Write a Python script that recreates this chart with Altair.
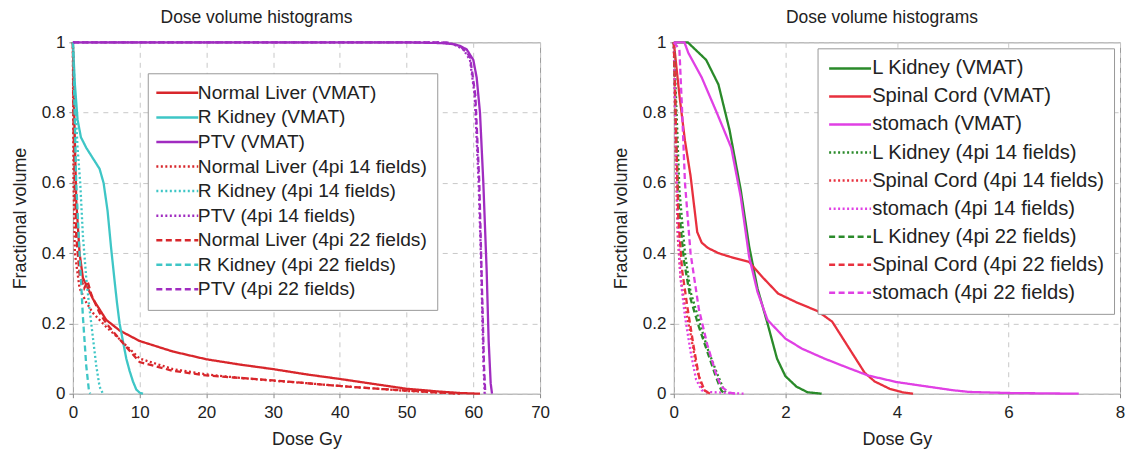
import altair as alt
import pandas as pd

# ---------------- Left panel data (Dose Gy, fractional volume) ----------------
nl_vmat_x = [0, 0.2, 0.5, 1, 1.5, 2, 3, 4, 5, 7, 10, 15, 20, 25, 30, 35, 40, 45, 50, 55, 58, 61]
nl_vmat_y = [1, 0.8, 0.55, 0.4, 0.33, 0.31, 0.27, 0.24, 0.21, 0.18, 0.15, 0.12, 0.098, 0.083, 0.07, 0.055, 0.042, 0.028, 0.014, 0.006, 0.002, 0]
rk_vmat_x = [0, 0.3, 0.7, 1.2, 2, 3, 4, 4.6, 5.2, 5.7, 6.2, 6.6, 7, 7.5, 8, 8.5, 9, 9.5, 10, 10.5]
rk_vmat_y = [1, 0.88, 0.78, 0.73, 0.7, 0.67, 0.64, 0.6, 0.52, 0.42, 0.33, 0.26, 0.2, 0.15, 0.1, 0.065, 0.035, 0.012, 0.003, 0]
ptv_vmat_x = [0, 50, 55, 57, 58, 59, 60, 60.5, 61, 61.5, 62, 62.3, 62.6, 62.8]
ptv_vmat_y = [1, 1, 0.998, 0.995, 0.99, 0.98, 0.95, 0.9, 0.8, 0.6, 0.35, 0.15, 0.03, 0]
nl_14_x = [0, 0.1, 0.3, 1, 2, 3, 5, 7, 10, 15, 20, 25, 30, 35, 40, 45, 50, 55, 58]
nl_14_y = [1, 0.6, 0.4, 0.3, 0.26, 0.23, 0.19, 0.155, 0.1, 0.07, 0.055, 0.045, 0.037, 0.03, 0.022, 0.015, 0.008, 0.003, 0]
rk_14_x = [0, 0.3, 0.7, 1.1, 1.5, 2, 2.5, 3, 3.5, 4, 4.5]
rk_14_y = [1, 0.85, 0.7, 0.6, 0.45, 0.33, 0.24, 0.16, 0.08, 0.02, 0]
ptv_14_x = [0, 55, 57, 58.5, 59.5, 60.2, 60.8, 61.2, 61.5, 61.7]
ptv_14_y = [1, 1, 0.995, 0.98, 0.95, 0.85, 0.6, 0.35, 0.1, 0]
nl_22_x = [0, 0.1, 0.5, 1, 1.7, 2.2, 2.8, 4, 5, 7, 10, 15, 20, 25, 30, 35, 40, 45, 50, 55, 58]
nl_22_y = [1, 0.75, 0.45, 0.34, 0.3, 0.32, 0.28, 0.23, 0.2, 0.155, 0.09, 0.065, 0.052, 0.045, 0.038, 0.03, 0.022, 0.015, 0.009, 0.003, 0]
rk_22_x = [0, 0.2, 0.5, 1, 1.5, 2, 2.4, 2.6]
rk_22_y = [1, 0.85, 0.6, 0.4, 0.22, 0.08, 0.01, 0]
ptv_22_x = [0, 56, 58, 59.5, 60.3, 60.9, 61.3, 61.6, 61.8]
ptv_22_y = [1, 1, 0.99, 0.96, 0.85, 0.6, 0.3, 0.08, 0]

# ---------------- Right panel data ----------------
lk_vmat_x = [0, 0.25, 0.58, 0.8, 1.0, 1.2, 1.35, 1.5, 1.68, 1.85, 2.0, 2.2, 2.4, 2.65]
lk_vmat_y = [1, 1, 0.95, 0.88, 0.75, 0.58, 0.42, 0.3, 0.2, 0.1, 0.05, 0.02, 0.004, 0]
sc_vmat_x = [0, 0.1, 0.2, 0.3, 0.42, 0.5, 0.61, 0.8, 1.0, 1.35, 1.6, 1.87, 2.2, 2.58, 2.84, 3.1, 3.42, 3.6, 3.87, 4.1, 4.29]
sc_vmat_y = [1, 0.85, 0.72, 0.62, 0.46, 0.43, 0.415, 0.4, 0.39, 0.375, 0.33, 0.285, 0.26, 0.235, 0.205, 0.14, 0.06, 0.035, 0.014, 0.004, 0]
st_vmat_x = [0, 0.19, 0.26, 0.5, 0.77, 1.03, 1.2, 1.35, 1.5, 1.68, 2.0, 2.3, 2.7, 3.1, 3.48, 4.0, 4.39, 5.0, 5.3, 6.0, 7.26]
st_vmat_y = [1, 1, 0.97, 0.9, 0.8, 0.7, 0.56, 0.39, 0.29, 0.21, 0.157, 0.128, 0.1, 0.075, 0.052, 0.033, 0.024, 0.01, 0.005, 0.002, 0]
lk_14_x = [0, 0.05, 0.1, 0.2, 0.3, 0.45, 0.6, 0.77, 0.9, 0.95]
lk_14_y = [1, 0.8, 0.58, 0.4, 0.29, 0.21, 0.13, 0.06, 0.01, 0]
sc_14_x = [0, 0.03, 0.07, 0.12, 0.2, 0.3, 0.4, 0.5, 0.6]
sc_14_y = [1, 0.7, 0.45, 0.33, 0.25, 0.17, 0.08, 0.02, 0]
st_14_x = [0, 0.03, 0.07, 0.12, 0.2, 0.3, 0.4, 0.5, 0.6, 0.9, 1.25]
st_14_y = [1, 0.75, 0.5, 0.33, 0.22, 0.12, 0.04, 0.01, 0.005, 0.003, 0]
lk_22_x = [0, 0.04, 0.08, 0.18, 0.3, 0.45, 0.6, 0.75, 0.85, 0.9]
lk_22_y = [1, 0.75, 0.55, 0.38, 0.27, 0.19, 0.12, 0.05, 0.01, 0]
sc_22_x = [0, 0.04, 0.08, 0.15, 0.25, 0.35, 0.45, 0.55, 0.65]
sc_22_y = [1, 0.75, 0.5, 0.35, 0.24, 0.14, 0.05, 0.01, 0]
st_22_x = [0, 0.1, 0.15, 0.2, 0.3, 0.45, 0.6, 0.75, 0.85, 1.0, 1.1]
st_22_y = [1, 0.98, 0.8, 0.6, 0.4, 0.24, 0.14, 0.06, 0.02, 0.003, 0]

left_names = ["Normal Liver (VMAT)", "R Kidney (VMAT)", "PTV (VMAT)",
              "Normal Liver (4pi 14 fields)", "R Kidney (4pi 14 fields)", "PTV (4pi 14 fields)",
              "Normal Liver (4pi 22 fields)", "R Kidney (4pi 22 fields)", "PTV (4pi 22 fields)"]
left_series = [(nl_vmat_x, nl_vmat_y), (rk_vmat_x, rk_vmat_y), (ptv_vmat_x, ptv_vmat_y),
               (nl_14_x, nl_14_y), (rk_14_x, rk_14_y), (ptv_14_x, ptv_14_y),
               (nl_22_x, nl_22_y), (rk_22_x, rk_22_y), (ptv_22_x, ptv_22_y)]
right_names = ["L Kidney (VMAT)", "Spinal Cord (VMAT)", "stomach (VMAT)",
               "L Kidney (4pi 14 fields)", "Spinal Cord (4pi 14 fields)", "stomach (4pi 14 fields)",
               "L Kidney (4pi 22 fields)", "Spinal Cord (4pi 22 fields)", "stomach (4pi 22 fields)"]
right_series = [(lk_vmat_x, lk_vmat_y), (sc_vmat_x, sc_vmat_y), (st_vmat_x, st_vmat_y),
                (lk_14_x, lk_14_y), (sc_14_x, sc_14_y), (st_14_x, st_14_y),
                (lk_22_x, lk_22_y), (sc_22_x, sc_22_y), (st_22_x, st_22_y)]

left_colors = ["#d8262b", "#3ec6c6", "#a02cc0"] * 3
right_colors = ["#2a8a2a", "#e8303e", "#e040e4"] * 3
dashes = [[1, 0]] * 3 + [[2, 2.5]] * 3 + [[6, 3.5]] * 3


def make_df(names, series):
    rows = []
    for n, (xs, ys) in zip(names, series):
        for i, (x, y) in enumerate(zip(xs, ys)):
            rows.append({"series": n, "dose": x, "vol": y, "idx": i})
    return pd.DataFrame(rows)


FONT = "Liberation Sans"


def panel(names, series, colors, xmax, xstep, lx, ly, w, title_dx,
          lfont, lrow, soff, loff):
    df = make_df(names, series)
    legend = alt.Legend(orient="none", legendX=lx, legendY=ly, title=None,
                        symbolType="M-3,0H3", symbolSize=196, symbolOffset=soff,
                        symbolStrokeWidth=2.5, labelFontSize=lfont, labelFont=FONT,
                        labelColor="#222", labelOffset=loff, labelLimit=400,
                        rowPadding=lrow, fillColor="white", strokeColor="#999",
                        padding=10)
    return alt.Chart(df).mark_line(strokeWidth=2.3).encode(
        x=alt.X("dose:Q", title="Dose Gy",
                scale=alt.Scale(domain=[0, xmax], nice=False),
                axis=alt.Axis(values=list(range(0, xmax + 1, xstep)), labelFlush=False,
                              labelPadding=7, titlePadding=10)),
        y=alt.Y("vol:Q", title="Fractional volume",
                scale=alt.Scale(domain=[0, 1], nice=False),
                axis=alt.Axis(values=[0, 0.2, 0.4, 0.6, 0.8, 1], format=".1~f", labelFlush=False)),
        color=alt.Color("series:N", scale=alt.Scale(domain=names, range=colors), legend=legend),
        strokeDash=alt.StrokeDash("series:N", scale=alt.Scale(domain=names, range=dashes), legend=legend),
        order="idx:Q",
    ).properties(
        width=w, height=352,
        title=alt.TitleParams("Dose volume histograms", dx=title_dx)
    )


left = panel(left_names, left_series, left_colors, 70, 10, 75, 31, 468, -50,
             19.2, 4.6, 10, 11)
right = panel(right_names, right_series, right_colors, 8, 2, 144, 6, 447, -15,
              20.2, 7.1, 12.5, 12)

chart = alt.hconcat(left, right, spacing=61).resolve_scale(
    color="independent", strokeDash="independent"
).resolve_legend(color="independent", strokeDash="independent").configure(
    background="white", padding={"left": 2, "top": 0, "right": 5, "bottom": 5}
).configure_view(
    stroke="#9a9a9a", strokeWidth=1
).configure_axis(
    grid=True, gridDash=[5, 5], gridColor="#c8c8c8", domain=False,
    ticks=True, tickSize=4, tickColor="#888",
    labelFont=FONT, labelFontSize=17, labelColor="#222", labelPadding=4,
    titleFont=FONT, titleFontSize=18, titleFontWeight="normal", titleColor="#222",
).configure_axisY(titlePadding=12).configure_title(
    font=FONT, fontSize=17.5, fontWeight="normal", color="#222", offset=7
)

chart.save("out.html", embed_options={"renderer": "svg", "actions": False})
